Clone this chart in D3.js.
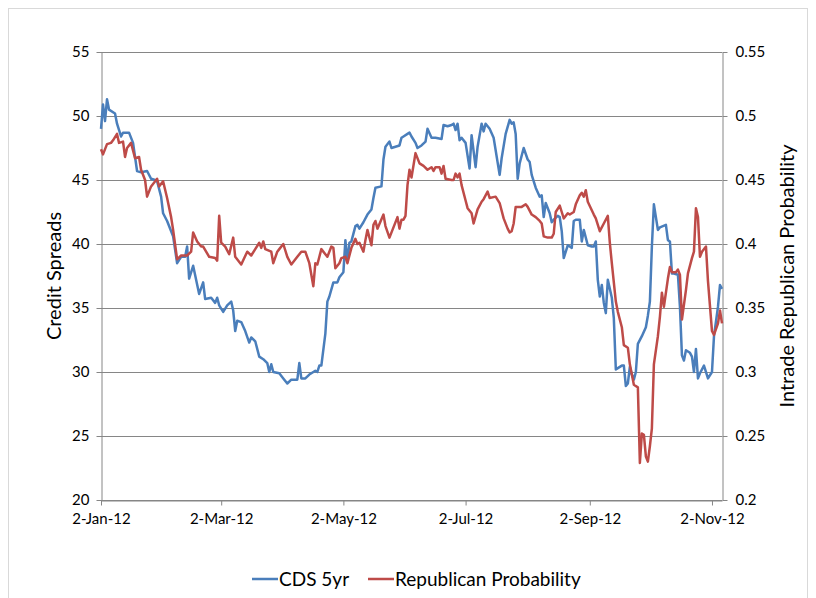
<!DOCTYPE html>
<html>
<head>
<meta charset="utf-8">
<script src="https://cdn.jsdelivr.net/npm/d3@7"></script>
<style>
  body { margin: 0; background: #fff; }
  svg text { font-family: Lato, "Open Sans", sans-serif; fill: #000; }
</style>
</head>
<body>
<div id="chart"></div>
<script>
/* CONSTANTS AND GLOBALS */
const width = 816;
const height = 598;
const plot = { left: 101, right: 722, top: 52, bottom: 500 };

const startDate = "2012-01-02";
const endDate = "2012-11-07";
const tickDates = ["2012-01-02", "2012-03-02", "2012-05-02", "2012-07-02", "2012-09-02", "2012-11-02"];
const leftTicks = [20, 25, 30, 35, 40, 45, 50, 55];
const rightTicks = [0.2, 0.25, 0.3, 0.35, 0.4, 0.45, 0.5, 0.55];

// CDS 5yr (credit spreads, left axis)
const cdsDates = ["2012-01-02","2012-01-03","2012-01-04","2012-01-05","2012-01-06","2012-01-09","2012-01-10","2012-01-12","2012-01-13","2012-01-16",
  "2012-01-18","2012-01-20","2012-01-22","2012-01-25","2012-01-27","2012-01-29","2012-01-30","2012-02-01","2012-02-02","2012-02-04",
  "2012-02-07","2012-02-09","2012-02-11","2012-02-13","2012-02-14","2012-02-15","2012-02-17","2012-02-20","2012-02-22","2012-02-23",
  "2012-02-26","2012-02-28","2012-02-29","2012-03-01","2012-03-03","2012-03-05","2012-03-07","2012-03-08","2012-03-09","2012-03-10",
  "2012-03-12","2012-03-14","2012-03-16","2012-03-17","2012-03-19","2012-03-21","2012-03-23","2012-03-25","2012-03-26","2012-03-27",
  "2012-03-28","2012-03-31","2012-04-02","2012-04-04","2012-04-06","2012-04-09","2012-04-10","2012-04-11","2012-04-13","2012-04-15",
  "2012-04-18","2012-04-19","2012-04-20","2012-04-21","2012-04-23","2012-04-24","2012-04-25","2012-04-27","2012-04-29","2012-04-30",
  "2012-05-02","2012-05-03","2012-05-04","2012-05-05","2012-05-06","2012-05-08","2012-05-09","2012-05-10","2012-05-12","2012-05-14",
  "2012-05-16","2012-05-17","2012-05-18","2012-05-21","2012-05-22","2012-05-23","2012-05-25","2012-05-26","2012-05-28","2012-05-30",
  "2012-05-31","2012-06-01","2012-06-03","2012-06-04","2012-06-05","2012-06-07","2012-06-08","2012-06-10","2012-06-12","2012-06-13",
  "2012-06-15","2012-06-17","2012-06-20","2012-06-21","2012-06-23","2012-06-25","2012-06-26","2012-06-27","2012-06-28","2012-06-29",
  "2012-06-30","2012-07-02","2012-07-04","2012-07-05","2012-07-07","2012-07-08","2012-07-10","2012-07-11","2012-07-12","2012-07-14",
  "2012-07-16","2012-07-19","2012-07-20","2012-07-22","2012-07-24","2012-07-25","2012-07-26","2012-07-27","2012-07-28","2012-07-29",
  "2012-07-31","2012-08-02","2012-08-03","2012-08-04","2012-08-06","2012-08-08","2012-08-09","2012-08-10","2012-08-11","2012-08-13",
  "2012-08-14","2012-08-15","2012-08-17","2012-08-18","2012-08-19","2012-08-20","2012-08-22","2012-08-23","2012-08-24","2012-08-25",
  "2012-08-26","2012-08-28","2012-08-29","2012-08-30","2012-09-01","2012-09-03","2012-09-04","2012-09-05","2012-09-06","2012-09-07",
  "2012-09-08","2012-09-09","2012-09-10","2012-09-11","2012-09-13","2012-09-14","2012-09-15","2012-09-16","2012-09-18","2012-09-19",
  "2012-09-20","2012-09-21","2012-09-22","2012-09-23","2012-09-24","2012-09-25","2012-09-26","2012-09-28","2012-09-30","2012-10-01",
  "2012-10-02","2012-10-03","2012-10-04","2012-10-06","2012-10-07","2012-10-10","2012-10-11","2012-10-12","2012-10-13","2012-10-14",
  "2012-10-16","2012-10-17","2012-10-18","2012-10-19","2012-10-20","2012-10-22","2012-10-23","2012-10-24","2012-10-25","2012-10-26",
  "2012-10-27","2012-10-29","2012-10-31","2012-11-02","2012-11-03","2012-11-05","2012-11-06","2012-11-07"];
const cdsValues = [49.0,50.9,49.6,51.3,50.5,50.2,49.4,48.4,48.7,48.7,
  47.9,45.7,45.6,45.7,45.1,45.0,44.9,43.7,42.4,41.8,
  40.6,38.5,39.0,39.0,39.8,37.3,38.3,36.1,37.0,35.7,
  35.8,35.4,35.8,35.2,34.7,35.2,35.5,34.8,33.2,34.0,
  33.9,33.2,32.3,32.7,32.4,31.2,31.0,30.7,30.0,30.6,
  30.0,29.9,29.5,29.1,29.4,29.4,30.7,29.5,29.5,29.8,
  30.1,30.0,30.5,30.5,33.0,35.5,35.9,37.0,37.0,37.4,
  37.8,40.3,38.6,40.1,40.2,41.4,41.5,41.2,41.7,42.3,
  42.7,43.6,44.4,44.5,46.6,47.6,48.0,47.5,47.6,47.7,
  48.3,48.4,48.6,48.7,48.4,47.9,47.5,47.7,48.0,49.0,
  48.3,48.3,48.2,49.3,49.2,49.3,49.4,48.9,49.4,48.1,
  48.3,47.9,45.9,48.5,46.0,47.6,49.4,48.8,49.4,49.0,
  48.3,45.4,46.7,48.6,49.7,49.4,49.5,48.6,45.1,46.3,
  47.5,46.6,46.4,45.4,44.4,43.7,43.8,42.1,43.2,42.4,
  41.7,41.9,42.2,42.1,41.0,38.9,39.9,39.8,39.7,41.8,
  41.9,41.9,40.2,41.1,39.9,39.8,39.8,40.2,37.2,35.9,
  36.8,35.4,34.6,37.2,35.8,34.2,30.2,30.3,30.5,30.5,
  28.9,29.1,30.4,29.8,29.4,30.0,32.2,32.8,33.5,34.4,
  35.5,39.8,43.1,41.1,41.3,41.5,40.3,40.2,37.7,37.7,
  37.6,35.1,31.3,30.9,31.7,31.5,31.2,30.0,31.8,29.5,
  29.9,30.5,29.5,30.0,32.8,35.1,36.8,36.5];

// Republican probability (Intrade, right axis)
const repDates = ["2012-01-02","2012-01-03","2012-01-05","2012-01-07","2012-01-08","2012-01-10","2012-01-11","2012-01-13","2012-01-14","2012-01-15",
  "2012-01-17","2012-01-19","2012-01-21","2012-01-22","2012-01-24","2012-01-25","2012-01-27","2012-01-30","2012-01-31","2012-02-02",
  "2012-02-04","2012-02-06","2012-02-07","2012-02-09","2012-02-11","2012-02-14","2012-02-16","2012-02-17","2012-02-19","2012-02-21",
  "2012-02-22","2012-02-25","2012-02-28","2012-02-29","2012-03-01","2012-03-02","2012-03-04","2012-03-06","2012-03-08","2012-03-09",
  "2012-03-12","2012-03-15","2012-03-17","2012-03-19","2012-03-21","2012-03-22","2012-03-23","2012-03-24","2012-03-27","2012-03-28",
  "2012-03-30","2012-03-31","2012-04-02","2012-04-04","2012-04-06","2012-04-09","2012-04-11","2012-04-13","2012-04-15","2012-04-17",
  "2012-04-18","2012-04-19","2012-04-21","2012-04-23","2012-04-24","2012-04-26","2012-04-27","2012-04-28","2012-04-30","2012-05-01",
  "2012-05-03","2012-05-04","2012-05-06","2012-05-08","2012-05-09","2012-05-10","2012-05-12","2012-05-13","2012-05-14","2012-05-16",
  "2012-05-17","2012-05-18","2012-05-19","2012-05-22","2012-05-23","2012-05-25","2012-05-29","2012-05-30","2012-05-31","2012-06-01",
  "2012-06-02","2012-06-03","2012-06-04","2012-06-05","2012-06-07","2012-06-09","2012-06-11","2012-06-13","2012-06-15","2012-06-16",
  "2012-06-17","2012-06-19","2012-06-20","2012-06-21","2012-06-22","2012-06-25","2012-06-26","2012-06-27","2012-06-28","2012-06-29",
  "2012-06-30","2012-07-02","2012-07-03","2012-07-05","2012-07-06","2012-07-08","2012-07-10","2012-07-11","2012-07-13","2012-07-14",
  "2012-07-17","2012-07-19","2012-07-21","2012-07-23","2012-07-24","2012-07-25","2012-07-26","2012-07-27","2012-07-28","2012-07-30",
  "2012-08-01","2012-08-02","2012-08-04","2012-08-06","2012-08-08","2012-08-09","2012-08-10","2012-08-12","2012-08-14","2012-08-15",
  "2012-08-16","2012-08-18","2012-08-19","2012-08-20","2012-08-22","2012-08-23","2012-08-25","2012-08-26","2012-08-28","2012-08-29",
  "2012-08-30","2012-08-31","2012-09-01","2012-09-04","2012-09-05","2012-09-07","2012-09-09","2012-09-11","2012-09-12","2012-09-13",
  "2012-09-15","2012-09-16","2012-09-18","2012-09-19","2012-09-21","2012-09-22","2012-09-24","2012-09-26","2012-09-27","2012-09-28",
  "2012-09-29","2012-09-30","2012-10-01","2012-10-02","2012-10-03","2012-10-04","2012-10-06","2012-10-07","2012-10-08","2012-10-09",
  "2012-10-11","2012-10-12","2012-10-13","2012-10-15","2012-10-16","2012-10-17","2012-10-18","2012-10-20","2012-10-21","2012-10-23",
  "2012-10-24","2012-10-25","2012-10-26","2012-10-27","2012-10-28","2012-10-30","2012-10-31","2012-11-02","2012-11-03","2012-11-05",
  "2012-11-06","2012-11-07"];
const repValues = [0.474,0.470,0.478,0.479,0.481,0.486,0.479,0.480,0.468,0.475,
  0.479,0.467,0.468,0.458,0.450,0.437,0.445,0.451,0.445,0.449,
  0.436,0.421,0.411,0.388,0.391,0.391,0.394,0.409,0.402,0.398,
  0.398,0.390,0.389,0.387,0.422,0.401,0.398,0.392,0.405,0.390,
  0.384,0.394,0.391,0.396,0.401,0.397,0.402,0.396,0.394,0.385,
  0.394,0.396,0.400,0.390,0.384,0.390,0.394,0.394,0.385,0.367,
  0.385,0.384,0.396,0.392,0.390,0.398,0.397,0.381,0.385,0.389,
  0.390,0.385,0.397,0.404,0.400,0.401,0.394,0.403,0.411,0.399,
  0.415,0.418,0.412,0.423,0.414,0.405,0.421,0.412,0.419,0.419,
  0.422,0.446,0.458,0.452,0.471,0.463,0.461,0.458,0.460,0.457,
  0.460,0.460,0.455,0.461,0.451,0.450,0.450,0.455,0.452,0.455,
  0.446,0.434,0.428,0.424,0.416,0.427,0.433,0.435,0.441,0.436,
  0.437,0.432,0.420,0.412,0.409,0.410,0.416,0.429,0.429,0.429,
  0.431,0.429,0.423,0.421,0.418,0.416,0.406,0.405,0.405,0.408,
  0.425,0.430,0.425,0.420,0.424,0.423,0.425,0.431,0.438,0.440,
  0.437,0.442,0.433,0.423,0.420,0.410,0.416,0.422,0.401,0.385,
  0.355,0.347,0.335,0.321,0.319,0.306,0.290,0.288,0.229,0.252,
  0.251,0.234,0.230,0.242,0.256,0.306,0.328,0.343,0.362,0.351,
  0.373,0.382,0.378,0.378,0.380,0.376,0.341,0.364,0.377,0.389,
  0.394,0.428,0.421,0.390,0.394,0.398,0.371,0.332,0.329,0.338,
  0.348,0.338];

const parseDate = d3.timeParse("%Y-%m-%d");
const cdsData = cdsDates.map((d, i) => ({ date: parseDate(d), value: cdsValues[i] }));
const repData = repDates.map((d, i) => ({ date: parseDate(d), value: repValues[i] }));

const gridColor = "#868686";
const blue = "#4a7ebb";
const red = "#be4b48";

const svg = d3.select("#chart")
  .append("svg")
  .attr("width", width)
  .attr("height", height);

// chart frame
svg.append("rect")
  .attr("x", 8.5).attr("y", 8.5)
  .attr("width", 799).attr("height", 620)
  .attr("fill", "none")
  .attr("stroke", "#d9d9d9");

/* SCALES */
const xScale = d3.scaleTime()
  .domain([parseDate(startDate), parseDate(endDate)])
  .range([plot.left, plot.right]);

const yLeft = d3.scaleLinear()
  .domain([20, 55])
  .range([plot.bottom, plot.top]);

const yRight = d3.scaleLinear()
  .domain([0.2, 0.55])
  .range([plot.bottom, plot.top]);

// gridlines
svg.append("g")
  .selectAll("line")
  .data(leftTicks)
  .join("line")
  .attr("x1", plot.left)
  .attr("x2", plot.right)
  .attr("y1", d => Math.round(yLeft(d)) + 0.5)
  .attr("y2", d => Math.round(yLeft(d)) + 0.5)
  .attr("stroke", gridColor)
  .attr("stroke-width", 1);

/* AXES */
const xAxis = d3.axisBottom(xScale)
  .tickValues(tickDates.map(parseDate))
  .tickFormat(d3.timeFormat("%-d-%b-%y"))
  .tickSizeInner(5).tickSizeOuter(0).tickPadding(8);

const leftAxis = d3.axisLeft(yLeft)
  .tickValues(leftTicks)
  .tickSizeInner(5).tickSizeOuter(0).tickPadding(7);

const rightAxis = d3.axisRight(yRight)
  .tickValues(rightTicks)
  .tickFormat(d => String(+d.toFixed(2)))
  .tickSizeInner(5).tickSizeOuter(0).tickPadding(8);

svg.append("g")
  .attr("class", "axis")
  .attr("transform", `translate(0,${plot.bottom + 0.5})`)
  .call(xAxis);

svg.append("g")
  .attr("class", "axis")
  .attr("transform", `translate(${plot.left + 0.5},0)`)
  .call(leftAxis);

svg.append("g")
  .attr("class", "axis")
  .attr("transform", `translate(${plot.right + 0.5},0)`)
  .call(rightAxis);

svg.selectAll(".axis path, .axis line").attr("stroke", gridColor);
svg.selectAll(".axis text")
  .attr("fill", "#000")
  .style("font-size", "15px")
  .style("font-family", "Lato, sans-serif");

// AXIS TITLES
svg.append("text")
  .attr("transform", `translate(61,${(plot.top + plot.bottom) / 2}) rotate(-90)`)
  .attr("text-anchor", "middle")
  .style("font-size", "20px")
  .text("Credit Spreads");

svg.append("text")
  .attr("transform", `translate(794,${(plot.top + plot.bottom) / 2}) rotate(-90)`)
  .attr("text-anchor", "middle")
  .style("font-size", "20px")
  .text("Intrade Republican Probability");

// LINES
const cdsLine = d3.line()
  .x(d => xScale(d.date))
  .y(d => yLeft(d.value));

const repLine = d3.line()
  .x(d => xScale(d.date))
  .y(d => yRight(d.value));

svg.append("path")
  .datum(cdsData)
  .attr("d", cdsLine)
  .attr("fill", "none")
  .attr("stroke", blue)
  .attr("stroke-width", 2.5)
  .attr("stroke-linejoin", "round");

svg.append("path")
  .datum(repData)
  .attr("d", repLine)
  .attr("fill", "none")
  .attr("stroke", red)
  .attr("stroke-width", 2.5)
  .attr("stroke-linejoin", "round");

// LEGEND
const legendItems = [
  { label: "CDS 5yr", color: blue, x: 252 },
  { label: "Republican Probability", color: red, x: 368 }
];
const legend = svg.append("g").attr("transform", "translate(0,579)");
legendItems.forEach(item => {
  legend.append("line")
    .attr("x1", item.x).attr("x2", item.x + 26)
    .attr("y1", 0).attr("y2", 0)
    .attr("stroke", item.color)
    .attr("stroke-width", 2.5);
  legend.append("text")
    .attr("x", item.x + 27)
    .attr("y", 0)
    .attr("dy", "0.35em")
    .style("font-size", "19px")
    .text(item.label);
});
</script>
</body>
</html>
